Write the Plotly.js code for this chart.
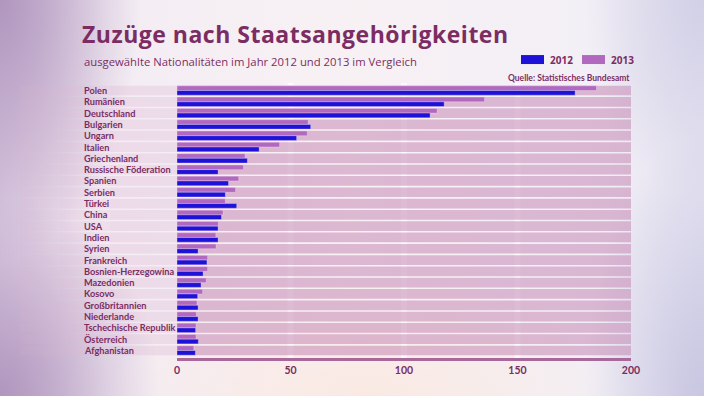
<!DOCTYPE html>
<html>
<head>
<meta charset="utf-8">
<script src="https://cdn.plot.ly/plotly-3.0.1.min.js"></script>
<style>
html,body{margin:0;padding:0;}
#wrap{position:relative;width:704px;height:396px;overflow:hidden;
background:
 radial-gradient(ellipse 260px 120px at 52% 100%, rgba(250,232,224,0.9) 0%, rgba(250,232,224,0) 100%),
 radial-gradient(ellipse 140px 260px at 0% 0%, rgba(176,150,190,1) 0%, rgba(176,150,190,0) 100%),
 radial-gradient(ellipse 160px 200px at 0% 100%, rgba(176,150,190,1) 0%, rgba(176,150,190,0) 100%),
 radial-gradient(ellipse 120px 260px at 100% 100%, rgba(200,198,225,1) 0%, rgba(200,198,225,0) 100%),
 radial-gradient(ellipse 120px 200px at 100% 0%, rgba(210,208,230,1) 0%, rgba(210,208,230,0) 100%),
 linear-gradient(to right, #dccbe2 0%, #f3ecf3 15%, #f8f1f4 50%, #f2eff6 85%, #e4e2f0 100%);}
#chart{position:absolute;left:0;top:0;width:704px;height:396px;}
#chart .gtitle{letter-spacing:0.5px;}
</style>
</head>
<body>
<div id="wrap"><div id="chart"></div></div>
<script>
const countries = ["Polen","Rumänien","Deutschland","Bulgarien","Ungarn","Italien","Griechenland","Russische Föderation","Spanien","Serbien","Türkei","China","USA","Indien","Syrien","Frankreich","Bosnien-Herzegowina","Mazedonien","Kosovo","Großbritannien","Niederlande","Tschechische Republik","Österreich","Afghanistan"];
const values2012 = [175.4,117.7,111.5,58.9,52.7,36.2,31.0,18.1,22.7,21.3,26.3,19.6,18.1,18.1,9.3,13.2,11.5,10.6,9.1,9.3,9.3,8.2,9.4,8.1];
const values2013 = [184.8,135.5,114.6,57.8,57.4,45.2,30.0,29.3,27.2,25.8,21.3,20.3,18.2,17.1,17.2,13.5,13.5,12.9,11.3,8.8,8.5,8.4,8.4,7.4];
const xTicks = [0,50,100,150,200];
const gridVals = [50,100,150];
const seriesNames = ["2012","2013"];

const W=704,H=396, L=177, R=631, T=83, B=358.5;
const pw=R-L, ph=B-T;
const px=x=>(x-L)/pw;
const py=y=>(B-y)/ph;
const purple="#7b2d63";
const c2012="#1e12d8", c2013="#b169bf";

const traces=[
 {type:"bar",orientation:"h",name:seriesNames[1],y:countries,x:values2013,
  marker:{color:c2013,line:{color:"rgba(255,240,250,0.55)",width:0.6}},hoverinfo:"skip"},
 {type:"bar",orientation:"h",name:seriesNames[0],y:countries,x:values2012,
  marker:{color:c2012,line:{color:"rgba(255,240,250,0.55)",width:0.6}},hoverinfo:"skip"}
];

const shapes=[];
const fadeSegs=[[20,60,0.12],[60,110,0.22],[110,177,0.32]];
countries.forEach((c,i)=>{
  fadeSegs.forEach(s=>{
    shapes.push({type:"rect",layer:"below",xref:"paper",yref:"y",x0:px(s[0]),x1:px(s[1]),y0:i-0.43,y1:i+0.43,
      line:{width:0},fillcolor:"rgba(222,180,208,"+s[2]+")"});
  });
  shapes.push({type:"rect",layer:"below",xref:"x",yref:"y",x0:0,x1:200,y0:i-0.43,y1:i+0.43,
    line:{width:0},fillcolor:"rgba(196,136,180,0.55)"});
});
gridVals.forEach(v=>{
  shapes.push({type:"line",layer:"below",xref:"x",yref:"paper",x0:v,x1:v,y0:0,y1:1,
    line:{color:"rgba(255,255,255,0.6)",width:6}});
});
// legend boxes
shapes.push({type:"rect",xref:"paper",yref:"paper",x0:px(521),x1:px(544),y0:py(64),y1:py(55),line:{width:0},fillcolor:c2012});
shapes.push({type:"rect",xref:"paper",yref:"paper",x0:px(582),x1:px(605),y0:py(64),y1:py(55),line:{width:0},fillcolor:c2013});

const annotations=[];
countries.forEach((c,i)=>{
  annotations.push({xref:"paper",yref:"y",x:px(82),y:i,text:c,showarrow:false,xanchor:"left",yanchor:"middle",
    font:{family:"Lato",size:9.2,color:purple,weight:700}});
});
annotations.push({xref:"paper",yref:"paper",x:px(82),y:py(61),text:"ausgewählte Nationalitäten im Jahr 2012 und 2013 im Vergleich",
  showarrow:false,xanchor:"left",yanchor:"middle",font:{family:"Open Sans",size:11.3,color:purple}});
annotations.push({xref:"paper",yref:"paper",x:px(548),y:py(59.5),text:seriesNames[0],showarrow:false,xanchor:"left",yanchor:"middle",
  font:{family:"Open Sans",size:10,color:purple,weight:700}});
annotations.push({xref:"paper",yref:"paper",x:px(609),y:py(59.5),text:seriesNames[1],showarrow:false,xanchor:"left",yanchor:"middle",
  font:{family:"Open Sans",size:10,color:purple,weight:700}});
annotations.push({xref:"paper",yref:"paper",x:px(632),y:py(77.5),text:"Quelle: Statistisches Bundesamt",showarrow:false,xanchor:"right",yanchor:"middle",
  font:{family:"Lato",size:8.5,color:purple,weight:700}});

const layout={
 width:W,height:H,
 paper_bgcolor:"rgba(0,0,0,0)",plot_bgcolor:"rgba(0,0,0,0)",
 margin:{l:L,r:W-R,t:T,b:H-B},
 title:{text:"Zuzüge nach Staatsangehörigkeiten",x:82/W,xanchor:"left",y:1-27/H,yanchor:"top",
   font:{family:"Open Sans",size:23,color:purple,weight:700}},
 showlegend:false,
 barmode:"group",bargap:0.17,bargroupgap:0,
 xaxis:{range:[0,200],tickvals:xTicks,ticktext:xTicks.map(String),showgrid:false,zeroline:false,
   showline:true,linecolor:"#a8689a",linewidth:3,ticks:"",ticklabelstandoff:0,
   tickfont:{family:"Lato",size:10.5,color:purple,weight:700},fixedrange:true},
 yaxis:{autorange:"reversed",showticklabels:false,showgrid:false,zeroline:false,ticks:"",fixedrange:true},
 shapes:shapes,annotations:annotations
};
Plotly.newPlot("chart",traces,layout,{staticPlot:true,displayModeBar:false});
</script>
</body>
</html>
